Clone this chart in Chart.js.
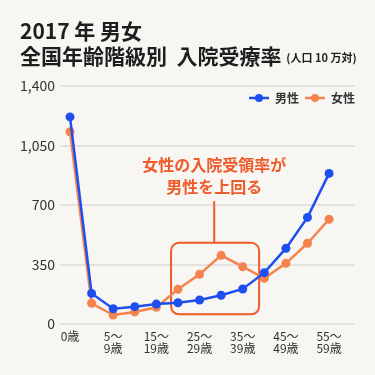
<!DOCTYPE html>
<html><head><meta charset="utf-8">
<script src="https://cdn.jsdelivr.net/npm/chart.js@4"></script>
<style>
html,body{margin:0;padding:0;background:#f7f6f2;}
#wrap{position:relative;width:375px;height:375px;overflow:hidden;}
canvas{position:absolute;left:0;top:0;}
.t{position:absolute;left:20px;color:#1e1e1e;font-family:'Noto Sans CJK JP';font-weight:700;white-space:nowrap;}
</style></head><body>
<div id="wrap">
<canvas id="c" width="375" height="375"></canvas>
<div class="t" style="top:18px;font-size:21px;line-height:24px;">2017 年 男女</div>
<div class="t" style="top:43px;font-size:21px;line-height:24px;">全国年齢階級別&nbsp; 入院受療率 <span style="font-size:11px;vertical-align:2px;">(人口 10 万対)</span></div>
</div>
<script>
const categories = ['0歳','1〜4歳','5〜9歳','10〜14歳','15〜19歳','20〜24歳','25〜29歳','30〜34歳','35〜39歳','40〜44歳','45〜49歳','50〜54歳','55〜59歳'];
const maleValues = [1218,180,90,102,117,125,141,169,206,302,445,627,886];
const femaleValues = [1131,122,53,71,98,204,292,404,337,269,357,475,616];
const tickIndices = [0,2,4,6,8,10,12];
const tickLabels = [['0歳'],['5〜','9歳'],['15〜','19歳'],['25〜','29歳'],['35〜','39歳'],['45〜','49歳'],['55〜','59歳']];
const yTicks = [0,350,700,1050,1400];
const seriesNames = ['男性','女性'];
const noteLines = ['女性の入院受領率が','男性を上回る'];

const BLUE = '#1d4ff0', ORANGE = '#f5834e', NOTE = '#f05a28';

function makeMarker(color){
  const c = document.createElement('canvas');
  c.width = 20; c.height = 10;
  const x = c.getContext('2d');
  x.strokeStyle = color; x.lineWidth = 2.5;
  x.beginPath(); x.moveTo(0,5); x.lineTo(20,5); x.stroke();
  x.fillStyle = color; x.beginPath(); x.arc(10,5,4,0,Math.PI*2); x.fill();
  return c;
}

const annotationPlugin = {
  id: 'note',
  beforeLayout(chart){
    const lg = chart.legend;
    if (lg && !lg._patched){
      const f = lg.fit;
      lg.fit = function(){ f.call(this); this._realH = this.height; this.height = 0; };
      lg._patched = true;
    }
  },
  afterLayout(chart){
    const lg = chart.legend;
    if (lg){
      lg.top = chart.chartArea.top;
      lg.bottom = lg.top + (lg._realH || 0);
      lg.left += 6; lg.right += 6;
    }
  },
  beforeDatasetsDraw(chart){
    const {ctx, scales:{x, y}} = chart;
    ctx.save();
    ctx.strokeStyle = NOTE; ctx.lineWidth = 2;
    const x0 = x.getPixelForValue(4.68), x1 = x.getPixelForValue(8.76);
    const y0 = y.getPixelForValue(478), y1 = y.getPixelForValue(57);
    ctx.beginPath(); ctx.roundRect(x0, y0, x1-x0, y1-y0, 8); ctx.stroke();
    const xc = x.getPixelForValue(6.68);
    ctx.beginPath(); ctx.moveTo(xc, y0); ctx.lineTo(xc, y.getPixelForValue(723)); ctx.stroke();
    ctx.fillStyle = NOTE;
    ctx.font = "700 16px 'Noto Sans CJK JP'";
    ctx.textAlign = 'center'; ctx.textBaseline = 'middle';
    ctx.fillText(noteLines[0], xc, y.getPixelForValue(933));
    ctx.fillText(noteLines[1], xc, y.getPixelForValue(808));
    ctx.restore();
  }
};

new Chart(document.getElementById('c'), {
  type: 'line',
  data: {
    datasets: [
      {label: seriesNames[0], data: maleValues.map((v,i)=>({x:i,y:v})), borderColor: BLUE, backgroundColor: BLUE,
       pointBackgroundColor: BLUE, pointBorderWidth: 0, pointRadius: 4.5, borderWidth: 2.5, tension: 0},
      {label: seriesNames[1], data: femaleValues.map((v,i)=>({x:i,y:v})), borderColor: ORANGE, backgroundColor: ORANGE,
       pointBackgroundColor: ORANGE, pointBorderWidth: 0, pointRadius: 4.5, borderWidth: 2.5, tension: 0}
    ]
  },
  options: {
    responsive: false,
    animation: false,
    layout: {padding: {top: 86, right: 20, bottom: 0, left: 0}},
    plugins: {
      title: {display: false},
      tooltip: {enabled: false},
      legend: {
        position: 'top', align: 'end',
        labels: {
          usePointStyle: true, pointStyleWidth: 20, padding: 6,
          font: {family: "'Noto Sans CJK JP'", size: 12, weight: '700'}, color: '#333',
          generateLabels(chart){
            return chart.data.datasets.map((ds,i)=>({
              text: ds.label, pointStyle: makeMarker(ds.borderColor), fillStyle: ds.borderColor,
              strokeStyle: ds.borderColor, lineWidth: 0, hidden: !chart.isDatasetVisible(i), datasetIndex: i, fontColor: '#333'
            }));
          }
        }
      }
    },
    scales: {
      x: {
        type: 'linear', min: -0.463, max: 13.2,
        afterBuildTicks(scale){ scale.ticks = tickIndices.map(v=>({value:v})); },
        afterFit(scale){ scale.height = 51; },
        grid: {display: false, drawTicks: false},
        border: {display: false},
        ticks: {
          autoSkip: false, maxRotation: 0, padding: 6, color: '#333',
          font: {family: "'Noto Sans CJK JP'", size: 12, lineHeight: 1.05},
          callback(v){ const k = tickIndices.indexOf(v); return k >= 0 ? tickLabels[k] : ''; }
        }
      },
      y: {
        min: 0, max: 1400,
        afterBuildTicks(scale){ scale.ticks = yTicks.map(v=>({value:v})); },
        afterFit(scale){ scale.width = 60; },
        grid: {color: '#e3e2df', lineWidth: 2, drawTicks: false},
        border: {display: false},
        ticks: {padding: 5, color: '#333', font: {family: "'Noto Sans CJK JP'", size: 14},
          callback(v){ return v.toLocaleString('en-US'); }}
      }
    }
  },
  plugins: [annotationPlugin]
});
</script>
</body></html>
